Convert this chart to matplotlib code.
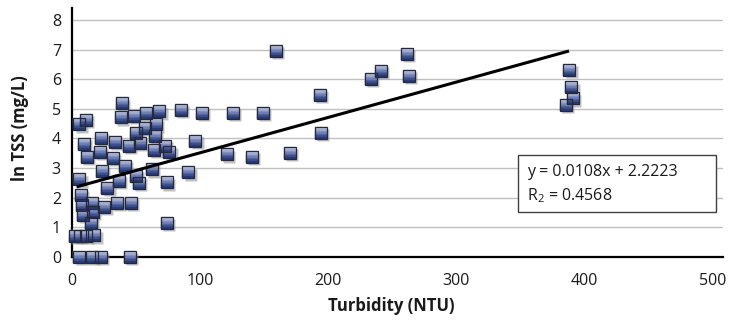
import matplotlib
matplotlib.use("Agg")
import matplotlib.pyplot as plt
from matplotlib.path import Path
from matplotlib.patches import Rectangle
from matplotlib.transforms import ScaledTranslation
import numpy as np

# ---------------- data ----------------
turbidity = [38.8, 10.9, 5.7, 38.0, 48.4, 57.8, 68.2, 84.9, 65.6, 57.2,
             50.0, 64.8, 22.4, 9.4, 33.6, 44.7, 53.1, 72.8, 11.5, 21.9,
             32.2, 64.4, 76.0, 41.4, 23.2, 5.7, 50.0, 62.5, 36.9, 52.5,
             73.9, 27.6, 90.8, 7.0, 15.4, 7.6, 25.2, 35.4, 46.1, 8.4,
             16.6, 14.6, 73.9, 2.3, 6.2, 10.9, 17.4, 5.7, 15.8, 22.6,
             45.3, 101.2, 125.4, 149.3, 159.0, 193.6, 194.1, 96.4, 121.2, 140.3,
             170.2, 261.3, 241.2, 233.2, 262.8, 388.2, 389.8, 390.9, 385.6]
ln_tss = [5.18, 4.62, 4.47, 4.71, 4.76, 4.84, 4.91, 4.97, 4.47, 4.34,
          4.17, 4.09, 4.02, 3.80, 3.89, 3.75, 3.85, 3.74, 3.38, 3.53,
          3.34, 3.62, 3.54, 3.07, 2.90, 2.61, 2.74, 2.95, 2.56, 2.50,
          2.51, 2.33, 2.85, 2.08, 1.80, 1.75, 1.69, 1.82, 1.82, 1.41,
          1.52, 1.15, 1.13, 0.70, 0.70, 0.70, 0.72, 0.0, 0.0, 0.0,
          0.0, 4.86, 4.86, 4.86, 6.95, 5.46, 4.17, 3.92, 3.46, 3.38,
          3.51, 6.85, 6.28, 6.01, 6.11, 6.31, 5.72, 5.35, 5.13]
trend_x = [3.6, 388.0]
trend_y = [2.36, 6.95]
x_ticks = [0, 100, 200, 300, 400, 500]
y_ticks = [0, 1, 2, 3, 4, 5, 6, 7, 8]
eq_line1 = "y = 0.0108x + 2.2223"
eq_line2 = "R$_2$ = 0.4568"

# ---------------- style ----------------
plt.rcParams["font.family"] = ["Open Sans", "DejaVu Sans"]
plt.rcParams["mathtext.fontset"] = "custom"
plt.rcParams["mathtext.rm"] = "Open Sans"
plt.rcParams["mathtext.default"] = "regular"

W, H = 731, 324
fig = plt.figure(figsize=(W / 100, H / 100), dpi=100)
x0_px, y0_px = 72, 256.7
px_per_x, px_per_y = 1.281, 29.6
xmax, ymax = 508, 8.4
ax = fig.add_axes([x0_px / W, (H - y0_px) / H,
                   xmax * px_per_x / W, ymax * px_per_y / H])
ax.set_xlim(0, xmax)
ax.set_ylim(0, ymax)

for s in ["top", "right"]:
    ax.spines[s].set_visible(False)
for s in ["left", "bottom"]:
    ax.spines[s].set_linewidth(1.6)
    ax.spines[s].set_color("black")

ax.set_xticks(x_ticks)
ax.set_yticks(y_ticks)
ax.tick_params(axis="both", length=0, labelsize=11.5, colors="#1a1a1a")
ax.tick_params(axis="x", pad=12)
ax.tick_params(axis="y", pad=8)
ax.grid(axis="y", color="#C0C0C0", linewidth=1.0)
ax.set_axisbelow(True)

# shadow
shadow_tr = ax.transData + ScaledTranslation(1.6 / 72, -1.6 / 72, fig.dpi_scale_trans)
ms = 8.4
ax.plot(turbidity, ln_tss, linestyle="none", marker="s", markersize=ms,
        markerfacecolor="#8E8E8E", markeredgecolor="none", alpha=0.55,
        transform=shadow_tr, clip_on=False, zorder=3)

# gradient bands inside markers
n_bands = 7
edges = np.linspace(1, -1, n_bands + 1)
top_c = np.array([200, 206, 232]) / 255
mid_c = np.array([112, 128, 182]) / 255
bot_c = np.array([26, 46, 108]) / 255
for i in range(n_bands):
    t = (i + 0.5) / n_bands
    if t < 0.5:
        c = top_c + (mid_c - top_c) * (t / 0.5)
    else:
        c = mid_c + (bot_c - mid_c) * ((t - 0.5) / 0.5)
    ya, yb = edges[i], edges[i + 1]
    band = Path([(-1, ya), (1, ya), (1, yb), (-1, yb), (-1, ya)], closed=True)
    ax.plot(turbidity, ln_tss, linestyle="none", marker=band, markersize=ms,
            markerfacecolor=c, markeredgecolor=c, markeredgewidth=0.3,
            clip_on=False, zorder=4)

# outline
ax.plot(turbidity, ln_tss, linestyle="none", marker="s", markersize=ms,
        markerfacecolor="none", markeredgecolor="#262a38", markeredgewidth=0.9,
        clip_on=False, zorder=5)

# trend line
ax.plot(trend_x, trend_y, color="black", linewidth=2.2, zorder=6,
        solid_capstyle="butt")

# axis titles
fig.text(391 / W, 1 - 306 / H, "Turbidity (NTU)", ha="center", va="center",
         fontsize=12, fontweight="bold", color="#1a1a1a")
fig.text(20.5 / W, 1 - 128 / H, "ln TSS (mg/L)", ha="center", va="center",
         rotation=90, fontsize=12, fontweight="bold", color="#1a1a1a")

# equation box
fig.add_artist(Rectangle((518 / W, 1 - 212 / H), 198 / W, 57 / H,
                         transform=fig.transFigure, facecolor="white",
                         edgecolor="#404040", linewidth=1.0, zorder=7))
fig.text(527 / W, 1 - 176 / H, eq_line1, ha="left", va="baseline",
         fontsize=11.5, color="#1a1a1a", zorder=8)
fig.text(527 / W, 1 - 200.7 / H, eq_line2, ha="left", va="baseline",
         fontsize=11.5, color="#1a1a1a", zorder=8)

fig.savefig("out.png", dpi=100)
